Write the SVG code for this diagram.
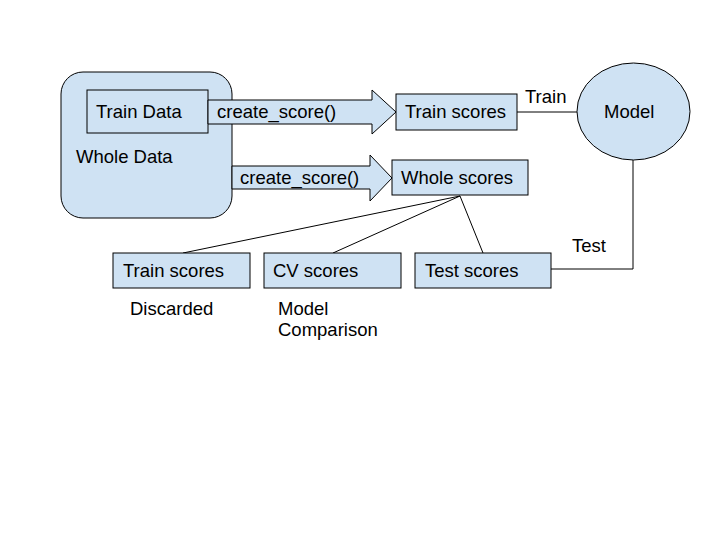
<svg xmlns="http://www.w3.org/2000/svg" width="720" height="540" viewBox="0 0 720 540">
<style>
.n{fill:#cfe2f3;stroke:#000;stroke-width:1}
.t{font-family:"Liberation Sans",Arial,sans-serif;font-size:18.5px;fill:#000}
.c{fill:none;stroke:#000;stroke-width:1}
</style>
<rect width="720" height="540" fill="#fff"/>
<g id="whole-data"><rect class="n" x="61" y="72" width="171" height="146" rx="22"/><text class="t" x="76" y="163">Whole Data</text></g>
<g id="train-data"><rect class="n" x="87" y="90" width="121" height="43"/><text class="t" x="96" y="118">Train Data</text></g>
<g id="arrow1"><path class="n" d="M208,100 H372 V90 L396,112 L372,134 V124 H208 Z"/><text class="t" x="217" y="118">create_score()</text></g>
<g id="arrow2"><path class="n" d="M232,166 H370 V155 L392,178 L370,201 V189 H232 Z"/><text class="t" x="240" y="184">create_score()</text></g>
<g id="connectors">
<path class="c" d="M517,112 H577"/>
<path class="c" d="M633,160 V269 H551"/>
<path class="c" d="M460,196 L183,253"/>
<path class="c" d="M460,196 L333,253"/>
<path class="c" d="M460,196 L483,253"/>
</g>
<g id="train-scores-top"><rect class="n" x="396" y="94" width="121" height="36"/><text class="t" x="405" y="118">Train scores</text></g>
<g id="model"><ellipse class="n" cx="633.5" cy="111.5" rx="56.5" ry="48.5"/><text class="t" x="604" y="118">Model</text></g>
<text class="t" x="525" y="103">Train</text>
<g id="whole-scores"><rect class="n" x="392" y="160" width="136" height="35"/><text class="t" x="401" y="184">Whole scores</text></g>
<text class="t" x="572" y="252">Test</text>
<g id="train-scores"><rect class="n" x="113" y="253" width="137" height="35"/><text class="t" x="123" y="277">Train scores</text></g>
<g id="cv-scores"><rect class="n" x="264" y="253" width="137" height="35"/><text class="t" x="273" y="277">CV scores</text></g>
<g id="test-scores"><rect class="n" x="415" y="253" width="136" height="35"/><text class="t" x="425" y="277">Test scores</text></g>
<text class="t" x="130" y="315">Discarded</text>
<text class="t" x="278" y="315">Model</text>
<text class="t" x="278" y="336">Comparison</text>
</svg>
